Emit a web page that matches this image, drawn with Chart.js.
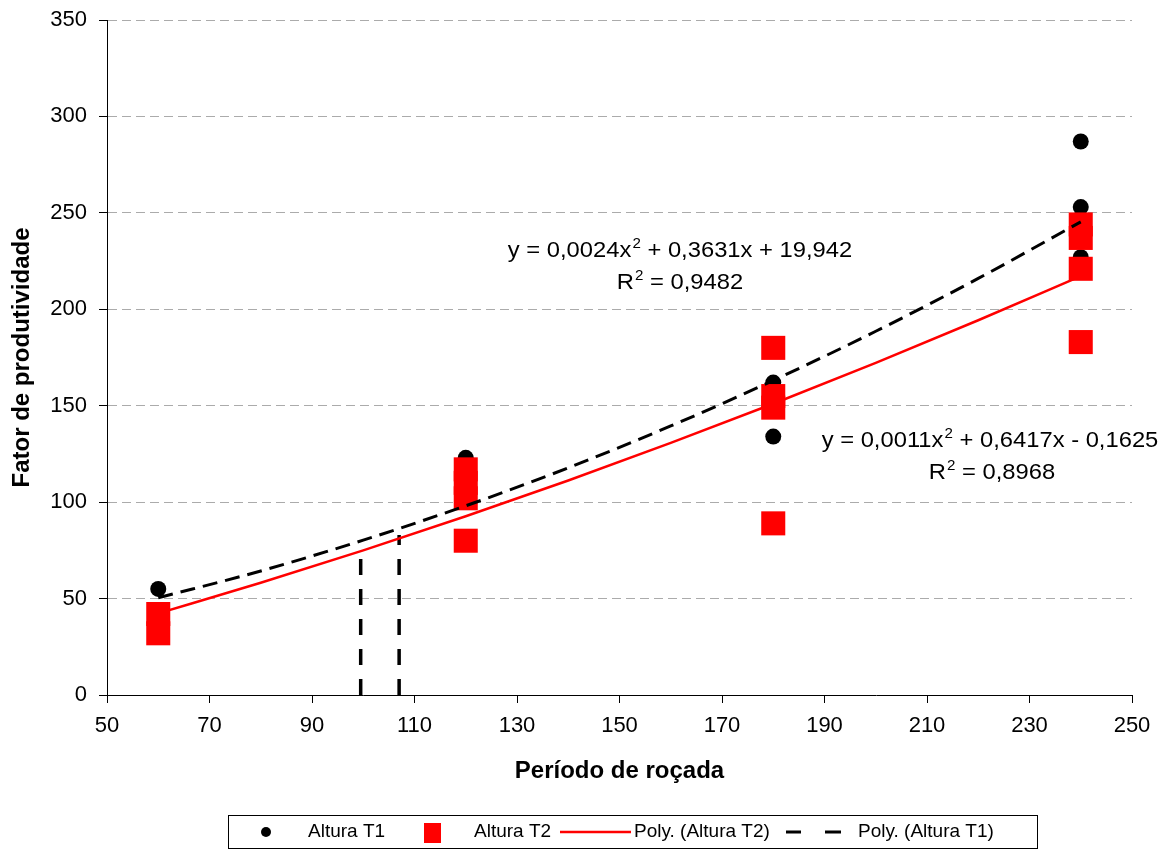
<!DOCTYPE html>
<html>
<head>
<meta charset="utf-8">
<script src="https://cdn.jsdelivr.net/npm/chart.js@4.4.1/dist/chart.umd.min.js"></script>
<style>
    html, body { margin: 0; padding: 0; background: #fff; }
    #wrap { position: relative; width: 1175px; height: 850px; }
</style>
</head>
<body>
<div id="wrap"><canvas id="chart" width="1175" height="850"></canvas></div>
<script>
const t1X = [60, 120, 180, 180, 240, 240, 240];
const t1Y = [55, 123, 162, 134, 287, 253, 227];
const t2X = [60, 60, 120, 120, 120, 120, 180, 180, 180, 180, 240, 240, 240, 240];
const t2Y = [42, 32, 117, 110, 102, 80, 180, 155, 149, 89, 244, 237, 221, 183];

// Linhas de tendência (valores lidos ao longo da curva)
const trendX = [60, 80, 100, 120, 140, 160, 180, 200, 220, 240];
const trendT1 = [50.4, 64.3, 80.3, 98.1, 117.8, 139.5, 163.1, 188.6, 216.0, 245.3];
const trendT2 = [42.3, 58.2, 75.0, 92.7, 111.2, 130.7, 151.0, 172.2, 194.3, 217.2];

// Linhas verticais tracejadas
const markA = { x: 99.5, y: [0, 75] };
const markB = { x: 107, y: [0, 83] };

// Ticks
const xMin = 50, xMax = 250, xStep = 20;
const yMin = 0, yMax = 350, yStep = 50;

const eqT1 = ['y = 0,0024x', '2', ' + 0,3631x + 19,942'];
const r2T1 = ['R', '2', ' = 0,9482'];
const eqT2 = ['y = 0,0011x', '2', ' + 0,6417x - 0,1625'];
const r2T2 = ['R', '2', ' = 0,8968'];

function toPoints(xs, ys) {
    return xs.map((x, i) => ({ x: x, y: ys[i] }));
}

const FONT = "'Liberation Sans', Arial, sans-serif";
const STRETCH = 1.08;

// Texto com sobrescrito: [base, sup, resto]
function drawSupText(ctx, parts, x, y, align) {
    const big = '22px ' + FONT, small = '14px ' + FONT;
    ctx.font = big;
    const w0 = ctx.measureText(parts[0]).width;
    const w2 = ctx.measureText(parts[2]).width;
    ctx.font = small;
    const w1 = ctx.measureText(parts[1]).width + 1;
    const total = (w0 + w1 + w2) * STRETCH;
    let sx = x;
    if (align === 'center') sx = x - total / 2;
    if (align === 'right') sx = x - total;
    ctx.save();
    ctx.translate(sx, y);
    ctx.scale(STRETCH, 1);
    ctx.fillStyle = '#000';
    ctx.textAlign = 'left';
    ctx.textBaseline = 'alphabetic';
    ctx.font = big;
    ctx.fillText(parts[0], 0, 0);
    ctx.font = small;
    ctx.fillText(parts[1], w0 + 1, -9);
    ctx.font = big;
    ctx.fillText(parts[2], w0 + w1, 0);
    ctx.restore();
}

const annotationPlugin = {
    id: 'equations',
    afterDatasetsDraw(chart) {
        const ctx = chart.ctx;
        drawSupText(ctx, eqT1, 680, 257, 'center');
        drawSupText(ctx, r2T1, 680, 289, 'center');
        drawSupText(ctx, eqT2, 990, 447, 'center');
        drawSupText(ctx, r2T2, 992, 479, 'center');
    }
};

const legendPlugin = {
    id: 'boxLegend',
    afterDraw(chart) {
        const ctx = chart.ctx;
        ctx.save();
        ctx.strokeStyle = '#000';
        ctx.lineWidth = 1;
        ctx.strokeRect(228.5, 815.5, 809, 33);
        const cy = 832;
        ctx.font = '19px ' + FONT;
        ctx.fillStyle = '#000';
        ctx.textBaseline = 'middle';
        ctx.textAlign = 'left';
        // Altura T1
        ctx.beginPath();
        ctx.arc(266, cy, 5, 0, Math.PI * 2);
        ctx.fill();
        ctx.fillText('Altura T1', 308, cy);
        // Altura T2
        ctx.fillStyle = '#ff0000';
        ctx.fillRect(424, cy - 9, 17, 20);
        ctx.fillStyle = '#000';
        ctx.fillText('Altura T2', 474, cy);
        // Poly T2
        ctx.strokeStyle = '#ff0000';
        ctx.lineWidth = 2.5;
        ctx.beginPath();
        ctx.moveTo(560, cy);
        ctx.lineTo(631, cy);
        ctx.stroke();
        ctx.fillText('Poly. (Altura T2)', 634, cy);
        // Poly T1
        ctx.strokeStyle = '#000';
        ctx.lineWidth = 3;
        ctx.beginPath();
        ctx.moveTo(786, cy);
        ctx.lineTo(801, cy);
        ctx.moveTo(825, cy);
        ctx.lineTo(841, cy);
        ctx.stroke();
        ctx.fillText('Poly. (Altura T1)', 858, cy);
        ctx.restore();
    }
};

new Chart(document.getElementById('chart'), {
    type: 'scatter',
    data: {
        datasets: [
            {
                label: 'Poly. (Altura T1)',
                type: 'line',
                data: toPoints(trendX, trendT1),
                borderColor: '#000',
                borderWidth: 3,
                borderDash: [15, 8],
                pointRadius: 0,
                fill: false,
                cubicInterpolationMode: 'monotone',
                order: 0
            },
            {
                label: 'Poly. (Altura T2)',
                type: 'line',
                data: toPoints(trendX, trendT2),
                borderColor: '#ff0000',
                borderWidth: 2.5,
                pointRadius: 0,
                fill: false,
                cubicInterpolationMode: 'monotone',
                order: 1
            },
            {
                label: 'Altura T2',
                data: toPoints(t2X, t2Y),
                pointStyle: 'rect',
                pointRadius: 17,
                backgroundColor: '#ff0000',
                borderColor: '#ff0000',
                borderWidth: 0,
                order: 2
            },
            {
                label: 'Altura T1',
                data: toPoints(t1X, t1Y),
                pointStyle: 'circle',
                pointRadius: 8,
                backgroundColor: '#000',
                borderColor: '#000',
                borderWidth: 0,
                order: 3
            },
            {
                label: 'marcaA',
                type: 'line',
                data: markA.y.map(v => ({ x: markA.x, y: v })),
                borderColor: '#000',
                borderWidth: 3.5,
                borderDash: [16, 14],
                pointRadius: 0,
                order: 4
            },
            {
                label: 'marcaB',
                type: 'line',
                data: markB.y.map(v => ({ x: markB.x, y: v })),
                borderColor: '#000',
                borderWidth: 3.5,
                borderDash: [16, 14],
                pointRadius: 0,
                order: 4
            }
        ]
    },
    options: {
        responsive: false,
        animation: false,
        layout: { padding: { left: 0, right: 43, top: 20, bottom: 55 } },
        plugins: {
            legend: { display: false },
            tooltip: { enabled: false }
        },
        scales: {
            x: {
                type: 'linear',
                min: xMin,
                max: xMax,
                ticks: {
                    stepSize: xStep,
                    color: '#000',
                    font: { family: FONT, size: 22 },
                    padding: 10,
                    maxRotation: 0
                },
                grid: {
                    drawOnChartArea: false,
                    tickLength: 8,
                    tickColor: '#000'
                },
                border: { color: '#000', width: 1 },
                title: {
                    display: true,
                    text: 'Período de roçada',
                    color: '#000',
                    font: { family: FONT, size: 24, weight: 'bold' },
                    padding: { top: 0, bottom: 9 }
                },
                afterFit(scale) {
                    scale.height = 100;
                    scale.paddingLeft = 0;
                    scale.paddingRight = 0;
                }
            },
            y: {
                min: yMin,
                max: yMax,
                ticks: {
                    stepSize: yStep,
                    color: '#000',
                    font: { family: FONT, size: 22 },
                    padding: 12
                },
                grid: {
                    color: '#ababab',
                    tickLength: 8,
                    tickColor: '#000',
                    tickBorderDash: []
                },
                border: { color: '#000', width: 1, dash: [9, 5] },
                title: {
                    display: true,
                    text: 'Fator de produtividade',
                    color: '#000',
                    font: { family: FONT, size: 24, weight: 'bold' },
                    padding: { top: 8, bottom: 0 }
                },
                afterFit(scale) {
                    scale.width = 107;
                    scale.paddingTop = 0;
                    scale.paddingBottom = 0;
                }
            }
        }
    },
    plugins: [annotationPlugin, legendPlugin]
});
</script>
</body>
</html>
